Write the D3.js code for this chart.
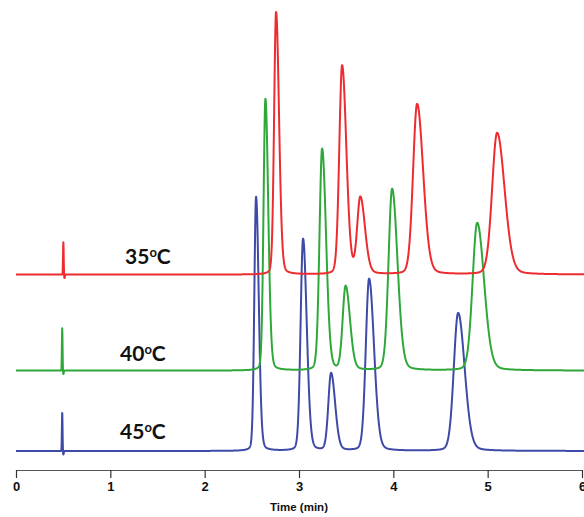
<!DOCTYPE html>
<html>
<head>
<meta charset="utf-8">
<script src="https://cdn.jsdelivr.net/npm/d3@7/dist/d3.min.js"></script>
<style>
  html, body { margin: 0; padding: 0; background: #fff; }
  svg { display: block; }
</style>
</head>
<body>
<svg id="chart" width="584" height="517"></svg>
<script>
// ---------------- data ----------------
const timeTicks = [0, 1, 2, 3, 4, 5, 6];
const xTitle = "Time (min)";

const temps = ["35", "40", "45"];
const traceColors = ["#ee2c30", "#2fa83a", "#3d4aa6"];
const baselineOffsets = [44.1, 20.1, 0];          // signal units

// injection spike (time, height)
const spikeTimes   = [0.502, 0.490, 0.490];
const spikeHeights = [8.1, 10.6, 9.5];

// peaks per temperature: retention time (min), height (units), width sigma (min)
const rt35 = [2.757, 3.457, 3.650, 4.252, 5.100];
const ht35 = [65.6, 52.2, 19.0, 42.6, 35.4];
const wd35 = [0.021, 0.030, 0.033, 0.043, 0.053];

const rt40 = [2.644, 3.245, 3.494, 3.987, 4.889];
const ht40 = [67.9, 55.4, 20.9, 45.4, 36.9];
const wd40 = [0.020, 0.028, 0.031, 0.038, 0.049];

const rt45 = [2.545, 3.043, 3.340, 3.743, 4.687];
const ht45 = [63.5, 53.0, 19.3, 43.0, 34.5];
const wd45 = [0.019, 0.026, 0.029, 0.035, 0.046];

const peakTables = [
  {rt: rt35, ht: ht35, wd: wd35},
  {rt: rt40, ht: ht40, wd: wd40},
  {rt: rt45, ht: ht45, wd: wd45}
];

// ---------------- layout ----------------
const svg = d3.select("#chart");
const x = d3.scaleLinear().domain([0, 6]).range([16, 582]);
const y = d3.scaleLinear().domain([0, 110]).range([451, 11]);

const tail = 1.5, eta = 0.13;
function peakShape(t, rt, h, s) {
  const dt = t - rt;
  const sig = dt < 0 ? s : s * tail;
  const g = Math.exp(-0.5 * (dt / sig) * (dt / sig));
  const l = 1 / (1 + Math.pow(dt / (1.1774 * sig), 2));
  return h * ((1 - eta) * g + eta * l);
}
function spikeShape(t, t0, h) {
  const up = h * Math.exp(-0.5 * Math.pow((t - t0) / 0.0035, 2));
  const dn = -0.9 * Math.exp(-0.5 * Math.pow((t - t0 - 0.012) / 0.004, 2));
  return up + dn;
}

const times = d3.range(0, 6.06, 0.001);
const line = d3.line().x(d => x(d[0])).y(d => y(d[1]));

// draw blue, green, red (red on top)
[2, 1, 0].forEach(i => {
  const tbl = peakTables[i];
  const pts = times.map(t => {
    let v = baselineOffsets[i] + spikeShape(t, spikeTimes[i], spikeHeights[i]);
    for (let k = 0; k < tbl.rt.length; k++) v += peakShape(t, tbl.rt[k], tbl.ht[k], tbl.wd[k]);
    return [t, v];
  });
  svg.append("path")
    .datum(pts)
    .attr("d", line)
    .attr("fill", "none")
    .attr("stroke", traceColors[i])
    .attr("stroke-width", 2)
    .attr("stroke-linejoin", "round");
});

// temperature labels
const labelPos = [[125, 264], [120, 361], [120, 439]];
temps.forEach((tp, i) => {
  const t = svg.append("text")
    .attr("x", labelPos[i][0]).attr("y", labelPos[i][1])
    .attr("font-family", "Lato, 'Open Sans', sans-serif")
    .attr("font-weight", "bold")
    .attr("font-size", 21)
    .attr("fill", "#111");
  t.append("tspan").text(tp);
  t.append("tspan").text("o").attr("font-size", 13).attr("dy", -7);
  t.append("tspan").text("C").attr("font-size", 21).attr("dy", 7);
});

// x axis
const axis = d3.axisBottom(x).tickValues(timeTicks).tickFormat(d3.format("d")).tickSize(8).tickSizeOuter(0);
const gx = svg.append("g").attr("transform", "translate(0,470)").call(axis);
gx.select(".domain").attr("stroke", "#555").attr("stroke-width", 1.2);
gx.selectAll(".tick line").attr("stroke", "#333").attr("stroke-width", 1.2);
gx.selectAll(".tick text")
  .attr("font-family", "'Liberation Sans', Arial, sans-serif")
  .attr("font-weight", "bold")
  .attr("font-size", 13)
  .attr("fill", "#111")
  .attr("dy", "0.71em")
  .attr("y", 12);

svg.append("text")
  .attr("x", 299).attr("y", 511)
  .attr("text-anchor", "middle")
  .attr("font-family", "'Liberation Sans', Arial, sans-serif")
  .attr("font-weight", "bold")
  .attr("font-size", 11.5)
  .attr("fill", "#111")
  .text(xTitle);
</script>
</body>
</html>
